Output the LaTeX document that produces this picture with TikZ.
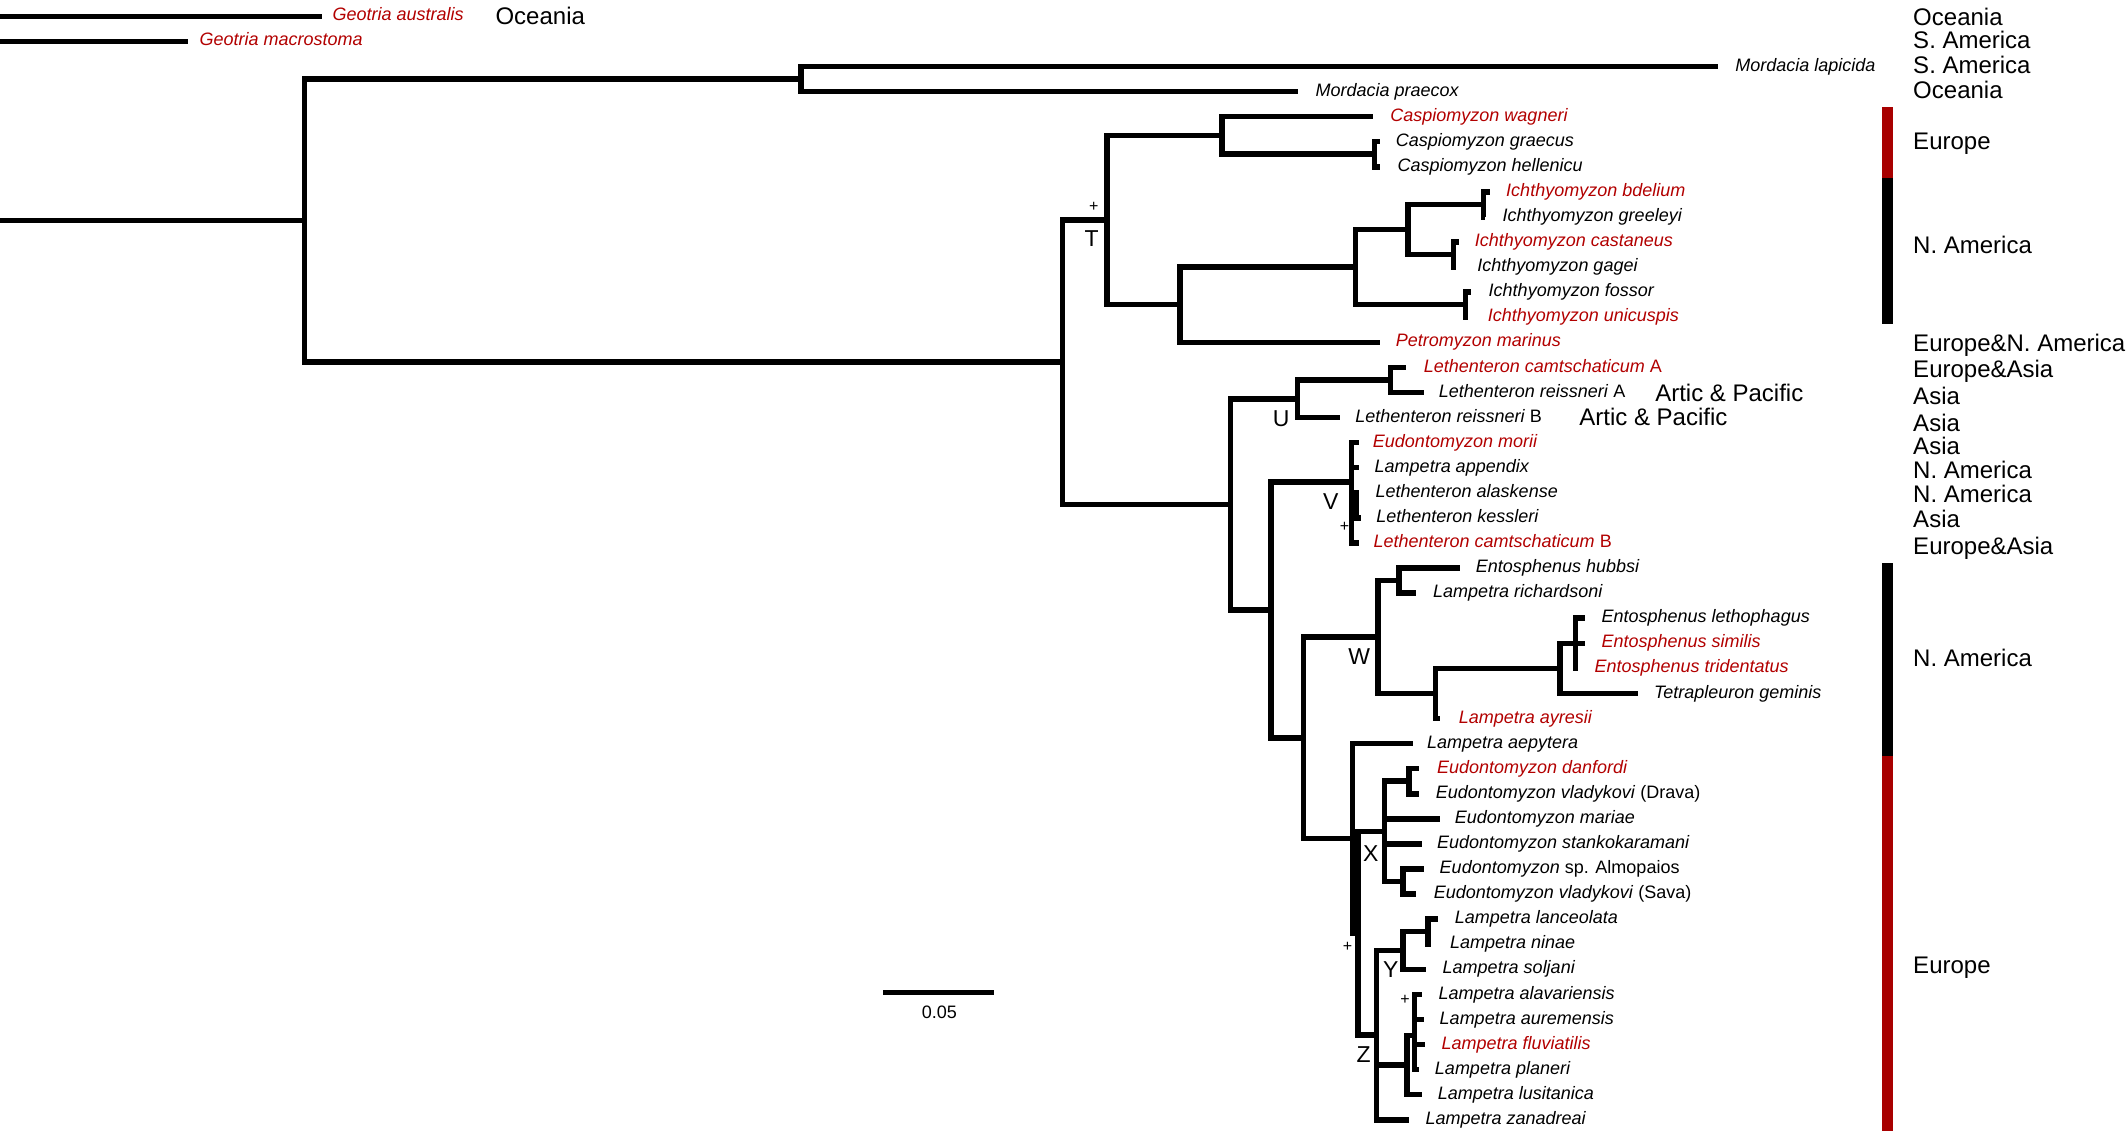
\documentclass[tikz,border=0pt]{standalone}
\usepackage{fontspec}
\setmainfont{Liberation Sans}
\definecolor{rd}{RGB}{178,0,0}
\definecolor{barred}{RGB}{168,0,0}
\newcommand\tipnode[6]{\coordinate (#1) at (#2,#3); \node[#5] (t#1) at (#4,#3) {#6};}
\begin{document}
\begin{tikzpicture}[x=1.3571pt,y=-1.3571pt,
  br/.style={line width=5.5pt,line join=miter},
  sp/.style={anchor=base west,inner sep=0pt,yshift=-4.6pt,font=\fontsize{18}{20}\selectfont\itshape},
  spr/.style={sp,text=rd},
  reg/.style={anchor=base west,inner sep=0pt,yshift=-8.6pt,font=\fontsize{24}{26}\selectfont},
  clab/.style={inner sep=0pt,font=\fontsize{23}{25}\selectfont},
  plus/.style={inner sep=0pt,font=\fontsize{16}{18}\selectfont}]
\useasboundingbox (0,0) rectangle (1568,834.13);

% ---------- internal nodes ----------
\coordinate (s0) at (0,162.53);
\coordinate (nR) at (224.4,162.53);
\coordinate (nM) at (590.3,58.2);
\coordinate (nA) at (782.8,266.86);
\coordinate (nT) at (815.5,162.15);
\coordinate (nCa) at (900.4,99.78);
\coordinate (nGH) at (1012.8,113.64);
\coordinate (nPI) at (869.3,224.52);
\coordinate (nIR) at (998.6,196.8);
\coordinate (nIS) at (1037.4,169.08);
\coordinate (nBG) at (1093,150.6);
\coordinate (nCG) at (1071,187.56);
\coordinate (nFU) at (1080,224.52);
\coordinate (nB) at (906.8,371.56);
\coordinate (nU) at (955.9,293.82);
\coordinate (nLA) at (1024.4,279.96);
\coordinate (nC) at (936.6,449.3);
\coordinate (nV) at (996,355);
\coordinate (vk1) at (999.3,363.12);
\coordinate (vk2) at (999.3,381.6);
\coordinate (nD) at (960.5,543.6);
\coordinate (nW) at (1015.5,469.38);
\coordinate (nHR) at (1031,427.8);
\coordinate (nWL) at (1057.8,510.96);
\coordinate (nE3) at (1149.5,492.48);
\coordinate (nE1) at (1160.8,474);
\coordinate (nE) at (996.4,617.8);
\coordinate (nE2) at (1000.7,687.7);
\coordinate (nX) at (1020.3,612.6);
\coordinate (nDD) at (1038.1,575.64);
\coordinate (nAS) at (1033.9,649.56);
\coordinate (nZ) at (1014.1,762.75);
\coordinate (nY) at (1033.9,700.38);
\coordinate (nLN) at (1052.2,686.52);
\coordinate (nG) at (1036.7,784.8);
\coordinate (nS) at (1042.3,763);

% ---------- tips ----------
\coordinate (g0a) at (0,12);
\coordinate (g0b) at (0,30.48);
\tipnode{gau}{237}{12}{245}{spr}{Geotria australis}
\tipnode{gma}{138.5}{30.48}{147}{spr}{Geotria macrostoma}
\tipnode{mla}{1266}{48.96}{1278.5}{sp}{Mordacia lapicida}
\tipnode{mpr}{956.2}{67.44}{969.3}{sp}{Mordacia praecox}
\tipnode{cwa}{1011.5}{85.92}{1024.4}{spr}{Caspiomyzon wagneri}
\tipnode{cgr}{1016.6}{104.4}{1028.3}{sp}{Caspiomyzon graecus}
\tipnode{che}{1016.6}{122.88}{1029.6}{sp}{Caspiomyzon hellenicu}
\tipnode{ibd}{1098}{141.36}{1109.7}{spr}{Ichthyomyzon bdelium}
\tipnode{igr}{1094.5}{159.84}{1107.1}{sp}{Ichthyomyzon greeleyi}
\tipnode{ica}{1074.8}{178.32}{1086.5}{spr}{Ichthyomyzon castaneus}
\tipnode{iga}{1072.5}{196.8}{1088.5}{sp}{Ichthyomyzon gagei}
\tipnode{ifo}{1083.9}{215.28}{1096.8}{sp}{Ichthyomyzon fossor}
\tipnode{iun}{1081.5}{233.76}{1096.2}{spr}{Ichthyomyzon unicuspis}
\tipnode{pma}{1016.6}{252.24}{1028.3}{spr}{Petromyzon marinus}
\tipnode{lca}{1036}{270.72}{1049}{spr}{Lethenteron camtschaticum \textup{A}}
\tipnode{lra}{1049}{289.2}{1060}{sp}{Lethenteron reissneri \textup{A}}
\tipnode{lrb}{987}{307.68}{998.6}{sp}{Lethenteron reissneri \textup{B}}
\tipnode{emo}{1001.5}{326.16}{1011.5}{spr}{Eudontomyzon morii}
\tipnode{lap}{1001.5}{344.64}{1012.8}{sp}{Lampetra appendix}
\tipnode{lal}{1001.5}{363.12}{1013.5}{sp}{Lethenteron alaskense}
\tipnode{lke}{1002.5}{381.6}{1014}{sp}{Lethenteron kessleri}
\tipnode{lcb}{1001}{400.08}{1012}{spr}{Lethenteron camtschaticum \textup{B}}
\tipnode{ehu}{1075.6}{418.56}{1087.4}{sp}{Entosphenus hubbsi}
\tipnode{lri}{1043.7}{437.04}{1055.9}{sp}{Lampetra richardsoni}
\tipnode{ele}{1167.8}{455.52}{1180}{sp}{Entosphenus lethophagus}
\tipnode{esi}{1167.8}{474}{1180}{spr}{Entosphenus similis}
\tipnode{etr}{1163}{492.48}{1174.8}{spr}{Entosphenus tridentatus}
\tipnode{tge}{1207.3}{510.96}{1218.6}{sp}{Tetrapleuron geminis}
\tipnode{lay}{1060.7}{529.44}{1074.8}{spr}{Lampetra ayresii}
\tipnode{lae}{1040.9}{547.92}{1051.4}{sp}{Lampetra aepytera}
\tipnode{eda}{1045.2}{566.4}{1058.7}{spr}{Eudontomyzon danfordi}
\tipnode{edr}{1045.2}{584.88}{1057.8}{sp}{Eudontomyzon vladykovi \textup{(Drava)}}
\tipnode{ema}{1060.7}{603.36}{1071.9}{sp}{Eudontomyzon mariae}
\tipnode{est}{1048}{621.84}{1058.7}{sp}{Eudontomyzon stankokaramani}
\tipnode{eal}{1049.4}{640.32}{1060.7}{sp}{Eudontomyzon \textup{sp. Almopaios}}
\tipnode{esa}{1043.7}{658.8}{1056.4}{sp}{Eudontomyzon vladykovi \textup{(Sava)}}
\tipnode{lla}{1059.3}{677.28}{1071.9}{sp}{Lampetra lanceolata}
\tipnode{lni}{1054.5}{695.76}{1068.3}{sp}{Lampetra ninae}
\tipnode{lso}{1050.8}{714.24}{1062.9}{sp}{Lampetra soljani}
\tipnode{lav}{1048}{732.72}{1059.8}{sp}{Lampetra alavariensis}
\tipnode{lau}{1049.4}{751.2}{1060.7}{sp}{Lampetra auremensis}
\tipnode{lfl}{1050.3}{769.68}{1062.1}{spr}{Lampetra fluviatilis}
\tipnode{lpl}{1045.2}{788.16}{1057.2}{sp}{Lampetra planeri}
\tipnode{llu}{1048}{806.64}{1059.3}{sp}{Lampetra lusitanica}
\tipnode{lza}{1038.1}{825.12}{1050.3}{sp}{Lampetra zanadreai}

% ---------- branches ----------
\draw[br] (g0a) -- (gau);
\draw[br] (g0b) -- (gma);
\draw[br] (s0) -- (nR);
\draw[br] (nR) |- (nM); \draw[br] (nR) |- (nA);
\draw[br] (nM) |- (mla); \draw[br] (nM) |- (mpr);
\draw[br] (nA) |- (nT); \draw[br] (nA) |- (nB);
\draw[br] (nT) |- (nCa); \draw[br] (nT) |- (nPI);
\draw[br] (nCa) |- (cwa); \draw[br] (nCa) |- (nGH);
\draw[br] (nGH) |- (cgr); \draw[br] (nGH) |- (che);
\draw[br] (nPI) |- (nIR); \draw[br] (nPI) |- (pma);
\draw[br] (nIR) |- (nIS); \draw[br] (nIR) |- (nFU);
\draw[br] (nIS) |- (nBG); \draw[br] (nIS) |- (nCG);
\draw[br] (nBG) |- (ibd); \draw[br] (nBG) |- (igr);
\draw[br] (nCG) |- (ica); \draw[br] (nCG) |- (iga);
\draw[br] (nFU) |- (ifo); \draw[br] (nFU) |- (iun);
\draw[br] (nB) |- (nU); \draw[br] (nB) |- (nC);
\draw[br] (nU) |- (nLA); \draw[br] (nU) |- (lrb);
\draw[br] (nLA) |- (lca); \draw[br] (nLA) |- (lra);
\draw[br] (nC) |- (nV); \draw[br] (nC) |- (nD);
\foreach \t in {emo,lap,lal,lke,lcb} \draw[br] (nV) |- (\t);
\draw[br] (vk1) -- (vk2);
\draw[br] (nD) |- (nW); \draw[br] (nD) |- (nE);
\draw[br] (nW) |- (nHR); \draw[br] (nW) |- (nWL);
\draw[br] (nHR) |- (ehu); \draw[br] (nHR) |- (lri);
\draw[br] (nWL) |- (nE3); \draw[br] (nWL) |- (lay);
\draw[br] (nE3) |- (nE1); \draw[br] (nE3) |- (tge);
\foreach \t in {ele,esi,etr} \draw[br] (nE1) |- (\t);
\draw[br] (nE) |- (lae); \draw[br] (nE) |- (nE2);
\draw[br] (nE2) |- (nX); \draw[br] (nE2) |- (nZ);
\foreach \t in {nDD,ema,est,nAS} \draw[br] (nX) |- (\t);
\draw[br] (nDD) |- (eda); \draw[br] (nDD) |- (edr);
\draw[br] (nAS) |- (eal); \draw[br] (nAS) |- (esa);
\foreach \t in {nY,nG,lza} \draw[br] (nZ) |- (\t);
\draw[br] (nY) |- (nLN); \draw[br] (nY) |- (lso);
\draw[br] (nLN) |- (lla); \draw[br] (nLN) |- (lni);
\draw[br] (nG) |- (nS); \draw[br] (nG) |- (llu);
\foreach \t in {lav,lau,lfl,lpl} \draw[br] (nS) |- (\t);

% ---------- clade labels ----------
\node[plus] (pT) at (806,152.4) {+};
\node[clab] (lT) at (804.4,175.5) {T};
\node[clab] (lU) at (944,308.8) {U};
\node[clab] (lV) at (980.5,369.7) {V};
\node[plus] (pV) at (990.8,388) {+};
\node[clab] (lW) at (1001.5,484) {W};
\node[clab] (lX) at (1010,628.8) {X};
\node[clab] (lY) at (1024.8,714.3) {Y};
\node[clab] (lZ) at (1004.8,776.7) {Z};
\node[plus] (pE) at (993,697.6) {+};
\node[plus] (pS) at (1035.3,736.4) {+};

% ---------- scale bar ----------
\coordinate (sb1) at (650.9,731.2);
\coordinate (sb2) at (732.7,731.2);
\draw[line width=5.5pt] (sb1) -- (sb2);
\node[inner sep=0pt,font=\fontsize{18}{20}\selectfont] (sbl) at (692.2,746) {0.05};

% ---------- region labels ----------
\node[reg] (r0) at (365,12) {Oceania};
\node[reg] (ap1) at (1219.5,289.7) {Artic \& Pacific};
\node[reg] (ap2) at (1163.6,307.2) {Artic \& Pacific};
\node[reg] (q1) at (1409.6,12.7) {Oceania};
\node[reg] (q2) at (1409.6,29.5) {S. America};
\node[reg] (q3) at (1409.6,48) {S. America};
\node[reg] (q4) at (1409.6,66.4) {Oceania};
\node[reg] (q5) at (1409.6,103.5) {Europe};
\node[reg] (q6) at (1409.6,180.5) {N. America};
\node[reg] (q7) at (1409.6,253) {Europe\&N. America};
\node[reg] (q8) at (1409.6,272) {Europe\&Asia};
\node[reg] (q9) at (1409.6,291.9) {Asia};
\node[reg] (q10) at (1409.6,311.6) {Asia};
\node[reg] (q11) at (1409.6,328.5) {Asia};
\node[reg] (q12) at (1409.6,346.3) {N. America};
\node[reg] (q13) at (1409.6,363.8) {N. America};
\node[reg] (q14) at (1409.6,382.1) {Asia};
\node[reg] (q15) at (1409.6,401.9) {Europe\&Asia};
\node[reg] (q16) at (1409.6,484.6) {N. America};
\node[reg] (q17) at (1409.6,711) {Europe};

% ---------- bars ----------
\fill[barred] (1386.8,79) rectangle (1394.9,131);
\fill[black] (1386.8,131) rectangle (1394.9,239);
\fill[black] (1386.8,414.5) rectangle (1394.9,557);
\fill[barred] (1386.8,557) rectangle (1394.9,833);
\end{tikzpicture}
\end{document}
